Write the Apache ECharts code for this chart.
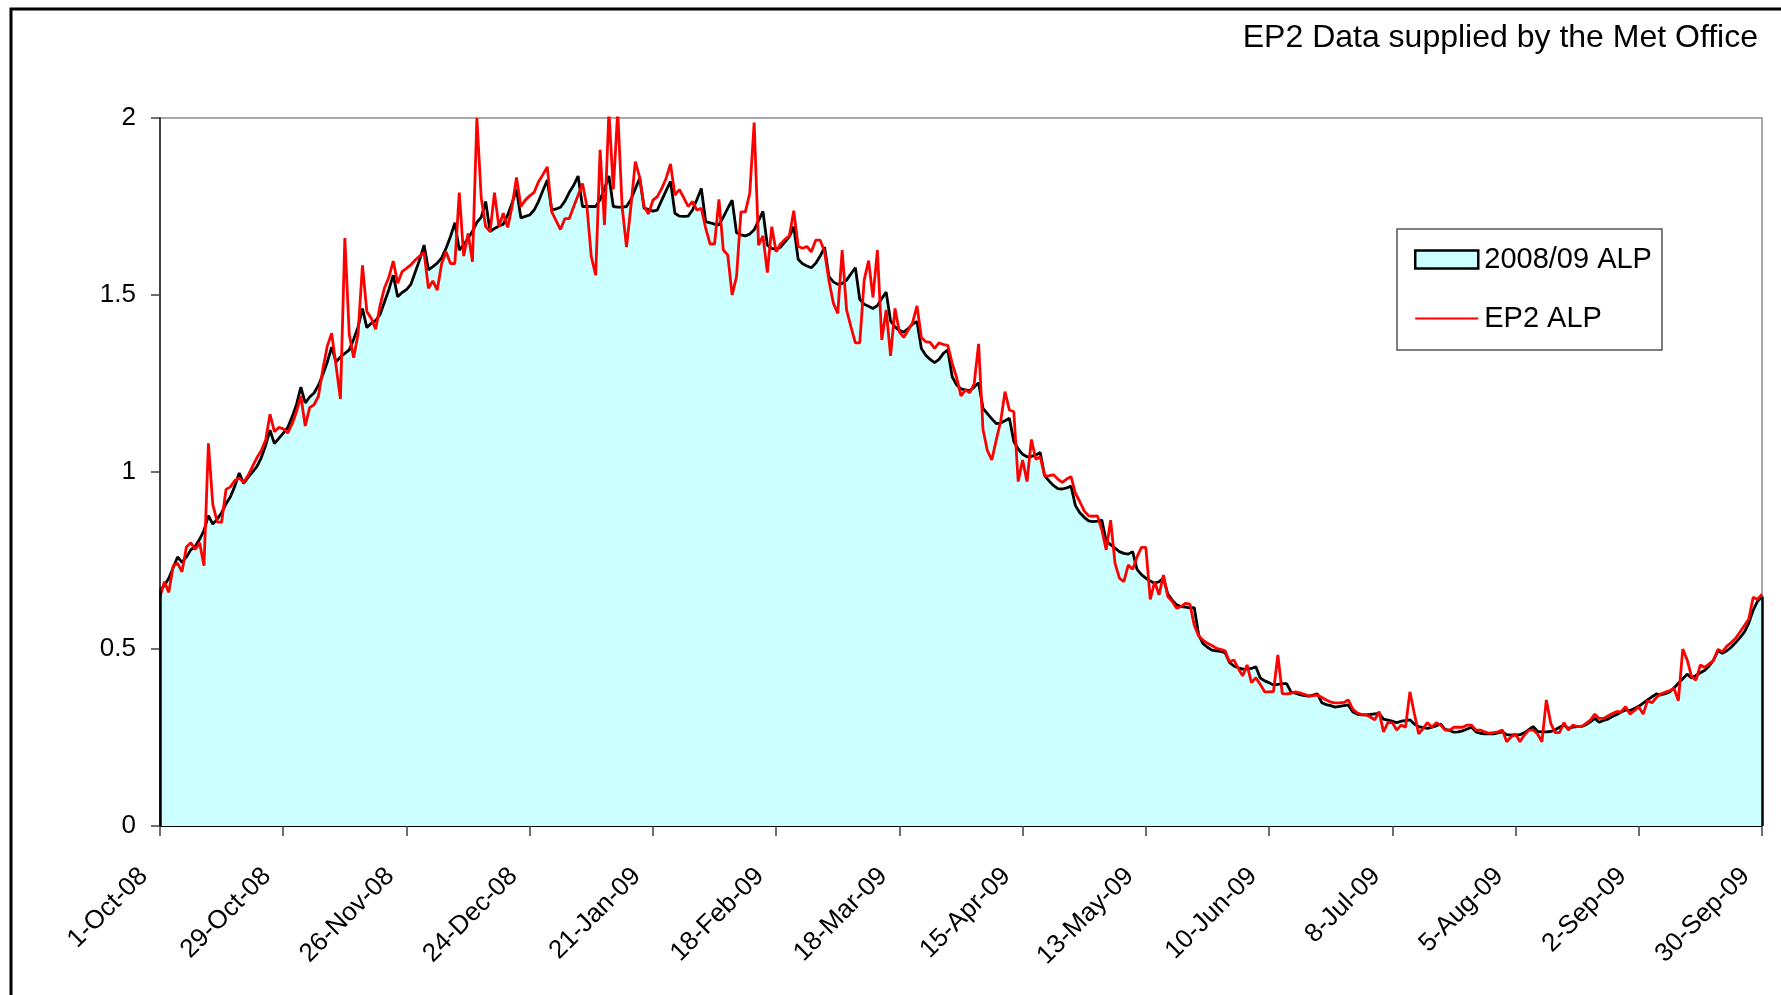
<!DOCTYPE html>
<html>
<head>
<meta charset="utf-8">
<script src="https://cdn.jsdelivr.net/npm/echarts@6/dist/echarts.min.js"></script>
<style>
html,body{margin:0;padding:0;background:#fff;}
#chart{width:1781px;height:995px;}
</style>
</head>
<body>
<div id="chart"></div>
<script>
// Daily values, 1-Oct-08 .. 30-Sep-09 (365 days)
const START_DATE = [2008, 9, 1];
const DAY_COUNT = 365;
const MONTHS = ['Jan','Feb','Mar','Apr','May','Jun','Jul','Aug','Sep','Oct','Nov','Dec'];
const TICK_LABELS = ['1-Oct-08','29-Oct-08','26-Nov-08','24-Dec-08','21-Jan-09','18-Feb-09','18-Mar-09','15-Apr-09','13-May-09','10-Jun-09','8-Jul-09','5-Aug-09','2-Sep-09','30-Sep-09'];
const Y_TICKS = [0, 0.5, 1, 1.5, 2];
const SERIES_NAMES = ['2008/09 ALP', 'EP2 ALP'];
const TITLE_TEXT = 'EP2 Data supplied by the Met Office';

const alp0809 = [
.665,.68,.70,.73,.76,.745,.76,.78,.79,.81,
.835,.877,.853,.867,.885,.91,.93,.96,.997,.968,
.985,1.0,1.015,1.04,1.075,1.118,1.08,1.095,1.11,1.125,
1.155,1.19,1.24,1.195,1.212,1.223,1.245,1.275,1.31,1.353,
1.311,1.325,1.335,1.345,1.375,1.41,1.462,1.408,1.42,1.428,
1.445,1.48,1.515,1.556,1.495,1.507,1.515,1.53,1.565,1.60,
1.641,1.571,1.58,1.59,1.605,1.632,1.665,1.704,1.627,1.642,
1.66,1.68,1.705,1.72,1.764,1.679,1.688,1.695,1.70,1.726,
1.76,1.798,1.718,1.722,1.726,1.74,1.764,1.795,1.825,1.74,
1.743,1.748,1.765,1.79,1.81,1.836,1.75,1.75,1.75,1.75,
1.77,1.80,1.836,1.75,1.748,1.748,1.75,1.77,1.80,1.83,
1.745,1.742,1.737,1.74,1.768,1.795,1.821,1.731,1.723,1.722,
1.723,1.74,1.77,1.801,1.707,1.704,1.70,1.698,1.72,1.745,
1.768,1.676,1.67,1.667,1.672,1.684,1.71,1.736,1.641,1.632,
1.629,1.635,1.65,1.665,1.693,1.601,1.588,1.582,1.577,1.59,
1.61,1.635,1.552,1.537,1.53,1.533,1.542,1.56,1.577,1.488,
1.474,1.468,1.462,1.47,1.49,1.508,1.427,1.41,1.40,1.395,
1.405,1.418,1.425,1.349,1.33,1.318,1.309,1.318,1.335,1.345,
1.269,1.246,1.235,1.232,1.23,1.24,1.252,1.18,1.165,1.15,
1.137,1.138,1.145,1.152,1.086,1.065,1.05,1.043,1.044,1.048,
1.055,.99,.975,.962,.953,.952,.955,.96,.905,.885,
.872,.862,.86,.861,.864,.805,.795,.785,.775,.77,
.768,.775,.725,.71,.70,.692,.686,.69,.70,.655,
.638,.625,.62,.618,.616,.617,.54,.515,.505,.497,
.495,.493,.49,.462,.452,.447,.443,.443,.445,.45,
.418,.41,.405,.398,.40,.402,.402,.378,.375,.371,
.368,.367,.37,.373,.348,.343,.34,.336,.338,.34,
.342,.323,.316,.314,.314,.315,.317,.318,.302,.299,
.296,.292,.296,.298,.30,.288,.281,.278,.276,.279,
.283,.288,.273,.27,.265,.266,.269,.274,.279,.266,
.262,.26,.26,.26,.263,.266,.258,.257,.257,.258,
.263,.272,.281,.267,.266,.266,.267,.272,.279,.285,
.276,.279,.281,.281,.286,.294,.304,.293,.298,.302,
.309,.315,.322,.328,.326,.332,.338,.347,.356,.365,
.373,.37,.374,.379,.39,.403,.416,.429,.418,.425,
.433,.44,.452,.469,.495,.488,.495,.505,.518,.532,
.548,.573,.61,.635,.648
];

const ep2 = [
.648,.69,.66,.735,.742,.718,.788,.80,.781,.80,
.735,1.081,.908,.859,.858,.951,.958,.976,.983,.971,
.99,1.015,1.04,1.06,1.09,1.163,1.114,1.126,1.122,1.11,
1.135,1.17,1.214,1.13,1.182,1.19,1.214,1.29,1.355,1.392,
1.30,1.206,1.661,1.389,1.323,1.389,1.584,1.453,1.434,1.403,
1.47,1.52,1.55,1.596,1.533,1.566,1.575,1.585,1.599,1.61,
1.62,1.519,1.54,1.514,1.589,1.622,1.589,1.589,1.789,1.61,
1.674,1.594,2.0,1.773,1.693,1.679,1.789,1.693,1.731,1.691,
1.75,1.832,1.75,1.768,1.78,1.79,1.82,1.84,1.862,1.735,
1.71,1.685,1.716,1.716,1.75,1.782,1.815,1.75,1.608,1.556,
1.91,1.698,2.02,1.798,2.02,1.75,1.635,1.75,1.877,1.832,
1.75,1.729,1.768,1.778,1.801,1.83,1.87,1.782,1.798,1.775,
1.75,1.764,1.74,1.745,1.688,1.644,1.644,1.77,1.627,1.613,
1.50,1.552,1.735,1.735,1.787,1.987,1.641,1.667,1.563,1.693,
1.622,1.644,1.657,1.667,1.738,1.637,1.632,1.637,1.622,1.655,
1.655,1.622,1.54,1.477,1.448,1.627,1.458,1.41,1.365,1.365,
1.542,1.597,1.493,1.627,1.373,1.458,1.328,1.462,1.396,1.38,
1.401,1.422,1.469,1.38,1.368,1.366,1.349,1.365,1.36,1.358,
1.307,1.267,1.215,1.232,1.224,1.25,1.362,1.12,1.06,1.034,
1.09,1.142,1.227,1.175,1.17,.973,1.034,.973,1.092,1.036,
1.043,.989,.99,.992,.98,.971,.98,.987,.94,.916,
.89,.876,.875,.876,.836,.78,.864,.742,.70,.69,
.737,.725,.76,.787,.787,.64,.69,.653,.709,.648,
.634,.615,.62,.629,.627,.567,.537,.525,.516,.51,
.502,.499,.495,.464,.469,.445,.424,.455,.405,.419,
.40,.379,.379,.38,.483,.374,.373,.375,.379,.376,
.372,.367,.368,.37,.363,.356,.35,.348,.348,.349,
.356,.33,.32,.315,.314,.308,.30,.323,.266,.292,
.292,.271,.285,.279,.379,.318,.26,.276,.292,.279,
.292,.285,.271,.271,.279,.279,.279,.285,.285,.271,
.271,.266,.262,.264,.266,.271,.238,.252,.26,.238,
.257,.271,.271,.26,.238,.356,.29,.264,.264,.292,
.271,.285,.281,.281,.29,.299,.316,.304,.304,.311,
.318,.323,.323,.337,.316,.326,.337,.316,.354,.348,
.363,.373,.378,.382,.389,.354,.50,.469,.422,.412,
.455,.448,.458,.468,.499,.492,.508,.518,.53,.548,
.566,.585,.646,.64,.655
];

// category labels (dates)
const categories = [];
for (let i = 0; i < DAY_COUNT; i++) {
  const d = new Date(Date.UTC(START_DATE[0], START_DATE[1], START_DATE[2] + i));
  categories.push(d.getUTCDate() + '-' + MONTHS[d.getUTCMonth()] + '-' + String(d.getUTCFullYear()).slice(2));
}
const TICK_STEP = Math.round((DAY_COUNT - 1) / (TICK_LABELS.length - 1)); // 28

const FONT = 'Liberation Sans, Arial, sans-serif';
const chart = echarts.init(document.getElementById('chart'), null, {renderer: 'canvas'});
const last = categories.length - 1;

chart.setOption({
  backgroundColor: '#ffffff',
  animation: false,
  title: {
    text: TITLE_TEXT,
    right: 18,
    top: 17,
    textStyle: {fontFamily: FONT, fontSize: 32, fontWeight: 'normal', color: '#000'}
  },
  graphic: [{
    type: 'rect', silent: true, z: 100,
    shape: {x: 11, y: 9, width: 1850, height: 1100},
    style: {fill: 'none', stroke: '#000', lineWidth: 3}
  }],
  legend: {
    orient: 'vertical',
    left: 1397, top: 229,
    padding: [16, 10, 17, 17],
    itemWidth: 63, itemHeight: 18,
    itemGap: 30,
    backgroundColor: '#fff',
    borderColor: '#555',
    borderWidth: 1.5,
    textStyle: {fontFamily: FONT, fontSize: 29, color: '#000', padding: [0, 0, 0, 1]},
    data: [
      {name: SERIES_NAMES[0], icon: 'rect', itemStyle: {color: '#CCFFFF', borderColor: '#000', borderWidth: 2.5}},
      {name: SERIES_NAMES[1], icon: 'path://M0,0 L63,0 L63,2 L0,2 Z', itemStyle: {color: '#FF0000', borderWidth: 0}}
    ]
  },
  grid: {
    left: 160, top: 118, width: 1602, height: 708,
    show: true, borderColor: '#8c8c8c', borderWidth: 1.5, backgroundColor: 'transparent'
  },
  xAxis: {
    type: 'category',
    data: categories,
    boundaryGap: false,
    axisLine: {lineStyle: {color: '#000', width: 2}},
    axisTick: {interval: TICK_STEP - 1, length: 10, lineStyle: {color: '#404040', width: 1.5}},
    axisLabel: {
      interval: TICK_STEP - 1, rotate: 45, margin: 30,
      fontFamily: FONT, fontSize: 26, color: '#000',
      padding: [0, 23, 0, 0]
    },
    splitLine: {show: false}
  },
  yAxis: {
    type: 'value',
    min: Y_TICKS[0], max: Y_TICKS[Y_TICKS.length - 1], interval: 0.5,
    axisLine: {show: true, lineStyle: {color: '#404040', width: 2}},
    axisTick: {show: true, length: 9, lineStyle: {color: '#404040', width: 1.5}},
    axisLabel: {margin: 24, fontFamily: FONT, fontSize: 26, color: '#000'},
    splitLine: {show: false}
  },
  series: [
    {
      name: SERIES_NAMES[0],
      type: 'line',
      data: alp0809,
      symbol: 'none',
      lineStyle: {color: '#000', width: 2.8},
      itemStyle: {color: '#000'},
      areaStyle: {color: '#CCFFFF', opacity: 1},
      z: 2,
      markLine: {
        silent: true, symbol: 'none', animation: false,
        label: {show: false},
        lineStyle: {color: '#000', width: 2.5, type: 'solid'},
        data: [
          [{coord: [categories[last], 0]}, {coord: [categories[last], alp0809[last]]}],
          [{coord: [categories[0], 0]}, {coord: [categories[0], alp0809[0]]}]
        ]
      }
    },
    {
      name: SERIES_NAMES[1],
      type: 'line',
      data: ep2,
      symbol: 'none',
      lineStyle: {color: '#FF0000', width: 2.8},
      itemStyle: {color: '#FF0000'},
      z: 3
    }
  ]
});
</script>
</body>
</html>
